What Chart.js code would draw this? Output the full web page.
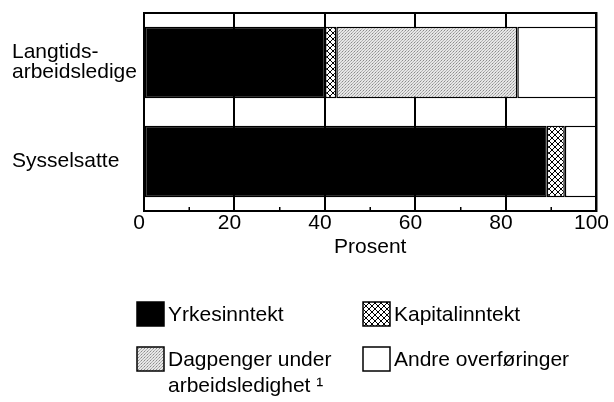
<!DOCTYPE html>
<html><head><meta charset="utf-8">
<script src="https://cdn.jsdelivr.net/npm/chart.js@4/dist/chart.umd.min.js"></script>
<style>html,body{margin:0;padding:0;background:#fff}</style>
</head><body><canvas id="c" width="614" height="402"></canvas>
<script>
const categories = [['Langtids-','arbeidsledige'], 'Sysselsatte'];
const seriesNames = ['Yrkesinntekt','Kapitalinntekt','Dagpenger under arbeidsledighet','Andre overføringer'];
const yrkesinntekt = [40, 89];
const kapitalinntekt = [2.5, 4];
const dagpenger = [40, 0];
const andreOverforinger = [17.5, 7];
const xTicks = [0, 20, 40, 60, 80, 100];
const minorTicks = [10, 30, 50, 70, 90];
const legendLines = [['Yrkesinntekt'], ['Kapitalinntekt'], ['Dagpenger under', 'arbeidsledighet \u00B9'], ['Andre overføringer']];

const FONT = 'Liberation Sans, Arial, Helvetica, sans-serif';
const FS = 21;

function makeCross() {
  const c = document.createElement('canvas'); c.width = 6; c.height = 6;
  const g = c.getContext('2d');
  g.fillStyle = '#fff'; g.fillRect(0, 0, 6, 6);
  g.strokeStyle = '#000'; g.lineWidth = 1;
  g.beginPath();
  g.moveTo(-1, -1); g.lineTo(7, 7);
  g.moveTo(7, -1); g.lineTo(-1, 7);
  g.stroke();
  return g.createPattern(c, 'repeat');
}
function makeStipple() {
  const c = document.createElement('canvas'); c.width = 3; c.height = 3;
  const g = c.getContext('2d');
  g.fillStyle = '#e6e6e6'; g.fillRect(0, 0, 3, 3);
  g.fillStyle = '#8a8a8a'; g.fillRect(0, 0, 1, 1);
  g.fillStyle = '#b0b0b0'; g.fillRect(2, 1, 1, 1); g.fillRect(1, 2, 1, 1);
  return g.createPattern(c, 'repeat');
}
const fills = ['#000000', makeCross(), makeStipple(), '#ffffff'];
const values = [yrkesinntekt, kapitalinntekt, dagpenger, andreOverforinger];

const framePlugin = {
  id: 'frame',
  afterDatasetsDraw(chart) {
    const { ctx, chartArea: a } = chart;
    const xs = chart.scales.x;
    ctx.save();
    ctx.strokeStyle = '#000'; ctx.lineWidth = 2;
    ctx.strokeRect(a.left, a.top, a.right - a.left, a.bottom - a.top);
    ctx.lineWidth = 1.5;
    ctx.beginPath();
    minorTicks.forEach(v => {
      const px = xs.getPixelForValue(v);
      ctx.moveTo(px, a.bottom); ctx.lineTo(px, a.bottom - 4);
    });
    ctx.stroke();
    ctx.restore();
  }
};

const legendPlugin = {
  id: 'customLegend',
  afterDraw(chart) {
    const { ctx } = chart;
    const colX = [137, 363], rowY = [302, 347];
    const bw = 27, bh = 24;
    ctx.save();
    ctx.font = FS + 'px ' + FONT;
    ctx.textBaseline = 'middle';
    ctx.textAlign = 'left';
    chart.data.datasets.forEach((ds, i) => {
      const x = colX[i % 2], y = rowY[Math.floor(i / 2)];
      ctx.fillStyle = ds.backgroundColor;
      ctx.fillRect(x, y, bw, bh);
      ctx.strokeStyle = '#000'; ctx.lineWidth = 1.5;
      ctx.strokeRect(x, y, bw, bh);
      ctx.fillStyle = '#000';
      legendLines[i].forEach((t, k) => ctx.fillText(t, x + bw + 4, y + bh / 2 + 1 + k * 26));
    });
    ctx.restore();
  }
};

new Chart(document.getElementById('c'), {
  type: 'bar',
  data: {
    labels: categories,
    datasets: seriesNames.map((n, i) => ({
      label: n,
      data: values[i],
      backgroundColor: fills[i],
      borderColor: '#000',
      borderWidth: ctx => (ctx.raw ? 1.5 : 0),
      borderSkipped: false,
      barPercentage: 0.72,
      categoryPercentage: 1
    }))
  },
  options: {
    indexAxis: 'y',
    responsive: false,
    animation: false,
    devicePixelRatio: 1,
    layout: { padding: { left: 12, top: 13, right: 13, bottom: 142 } },
    plugins: { legend: { display: false }, tooltip: { enabled: false } },
    scales: {
      x: {
        type: 'linear', stacked: true, min: 0, max: 100,
        afterBuildTicks: s => { s.ticks = xTicks.map(v => ({ value: v })); },
        afterFit: s => { s.height = 49; },
        grid: { color: '#000', lineWidth: 2, drawTicks: false },
        border: { display: true, color: '#000', width: 2 },
        ticks: { color: '#000', padding: 0, labelOffset: -5, maxRotation: 0, font: { family: FONT, size: FS, lineHeight: 1.2 } },
        title: { display: true, text: 'Prosent', color: '#000', padding: 0, font: { family: FONT, size: FS, lineHeight: 1.2 } }
      },
      y: {
        stacked: true,
        afterFit: s => { s.width = 132; },
        grid: { display: false },
        border: { display: true, color: '#000', width: 2 },
        ticks: { color: '#000', crossAlign: 'far', padding: 0, font: { family: FONT, size: FS, lineHeight: 0.95 } }
      }
    }
  },
  plugins: [framePlugin, legendPlugin]
});
</script></body></html>
